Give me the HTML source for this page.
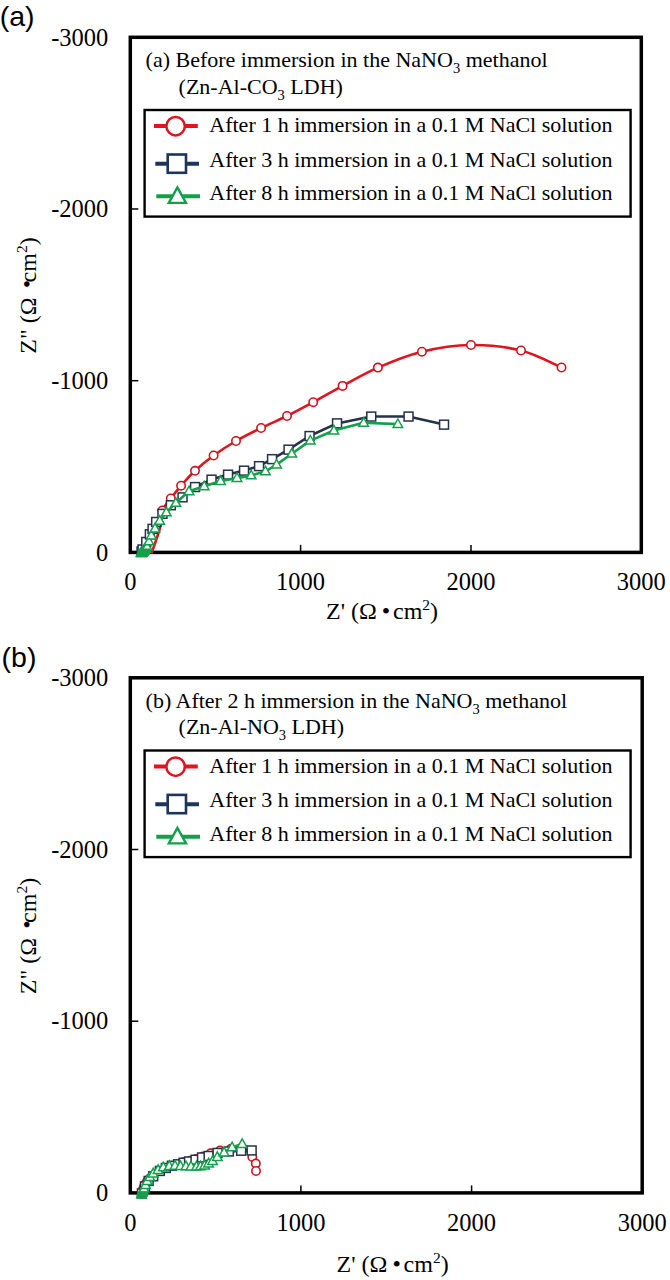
<!DOCTYPE html>
<html><head><meta charset="utf-8"><title>Nyquist plots</title>
<style>html,body{margin:0;padding:0;background:#fff;width:670px;height:1280px;overflow:hidden;}svg{display:block;font-family:"Liberation Serif",serif;}</style>
</head><body>
<svg width="670" height="1280" viewBox="0 0 670 1280">
<rect width="670" height="1280" fill="#fff"/>
<text x="-0.3" y="26.3" font-family="&quot;Liberation Sans&quot;, sans-serif" font-size="28.5">(a)</text>
<rect x="130.3" y="37.3" width="511.0" height="515.1" fill="none" stroke="#000" stroke-width="3.5"/>
<line x1="130.3" y1="380.7" x2="138.3" y2="380.7" stroke="#000" stroke-width="1.5"/>
<line x1="300.6" y1="552.4" x2="300.6" y2="544.9" stroke="#000" stroke-width="1.5"/>
<line x1="130.3" y1="209.0" x2="138.3" y2="209.0" stroke="#000" stroke-width="1.5"/>
<line x1="471.0" y1="552.4" x2="471.0" y2="544.9" stroke="#000" stroke-width="1.5"/>
<text x="108.3" y="560.6" font-family="&quot;Liberation Serif&quot;, serif" font-size="24.5" text-anchor="end">0</text>
<text x="108.3" y="388.9" font-family="&quot;Liberation Serif&quot;, serif" font-size="24.5" text-anchor="end">-1000</text>
<text x="108.3" y="217.2" font-family="&quot;Liberation Serif&quot;, serif" font-size="24.5" text-anchor="end">-2000</text>
<text x="108.3" y="45.5" font-family="&quot;Liberation Serif&quot;, serif" font-size="24.5" text-anchor="end">-3000</text>
<text x="130.3" y="590.3" font-family="&quot;Liberation Serif&quot;, serif" font-size="24.5" text-anchor="middle">0</text>
<text x="300.6" y="590.3" font-family="&quot;Liberation Serif&quot;, serif" font-size="24.5" text-anchor="middle">1000</text>
<text x="471.0" y="590.3" font-family="&quot;Liberation Serif&quot;, serif" font-size="24.5" text-anchor="middle">2000</text>
<text x="641.3" y="590.3" font-family="&quot;Liberation Serif&quot;, serif" font-size="24.5" text-anchor="middle">3000</text>
<text x="326.0" y="619.0" font-family="&quot;Liberation Serif&quot;, serif" font-size="24">Z' (&#937;<tspan dx="5">&#8226;</tspan><tspan dx="2.8">cm</tspan><tspan font-size="15.5" dy="-9">2</tspan><tspan dy="9">)</tspan></text>
<text transform="translate(36.3,295.5) rotate(-90)" font-family="&quot;Liberation Serif&quot;, serif" font-size="24" text-anchor="middle">Z&quot; (&#937; <tspan dx="3" dy="-1.8">&#8226;</tspan><tspan dx="-2.5" dy="1.8">cm</tspan><tspan font-size="15.5" dy="-9">2</tspan><tspan dy="9">)</tspan></text>
<text x="145.6" y="67.4" font-family="&quot;Liberation Serif&quot;, serif" font-size="22">(a) Before immersion in the NaNO<tspan font-size="14.5" dy="5.8">3</tspan><tspan dy="-5.8"> methanol</tspan></text>
<text x="178.6" y="93.8" font-family="&quot;Liberation Serif&quot;, serif" font-size="22">(Zn-Al-CO<tspan font-size="14.5" dy="5.8">3</tspan><tspan dy="-5.8"> LDH)</tspan></text>
<rect x="144.6" y="110.0" width="486" height="106.6" fill="#fff" stroke="#000" stroke-width="2.4"/>
<line x1="154.0" y1="126.0" x2="197.8" y2="126.0" stroke="#de141e" stroke-width="4.1"/>
<circle cx="175.6" cy="126.2" r="9.2" fill="#fff" stroke="#de141e" stroke-width="2.5"/>
<text x="209.3" y="132.4" font-family="&quot;Liberation Serif&quot;, serif" font-size="22">After 1 h immersion in a 0.1 M NaCl solution</text>
<line x1="155.3" y1="163.8" x2="199.0" y2="163.8" stroke="#1b355c" stroke-width="4.1"/>
<rect x="167.7" y="154.5" width="18.3" height="18.3" fill="#fff" stroke="#1b355c" stroke-width="2.6"/>
<text x="209.3" y="166.8" font-family="&quot;Liberation Serif&quot;, serif" font-size="22">After 3 h immersion in a 0.1 M NaCl solution</text>
<line x1="156.3" y1="196.3" x2="200.0" y2="196.3" stroke="#12a04a" stroke-width="4.1"/>
<path d="M177.4,187.4 L186.0,202.9 L168.8,202.9 Z" fill="#fff" stroke="#12a04a" stroke-width="2.4"/>
<text x="209.3" y="200.4" font-family="&quot;Liberation Serif&quot;, serif" font-size="22">After 8 h immersion in a 0.1 M NaCl solution</text>
<path d="M151.5,553.5 C152.3,551.1 154.9,543.9 156.5,539.0 C158.1,534.1 160.0,528.8 161.0,524.0 C162.0,519.2 160.8,514.8 162.4,510.5 C164.0,506.2 167.7,502.6 170.8,498.5 C173.9,494.4 177.1,490.3 181.1,485.7 C185.1,481.1 189.6,475.8 195.0,470.8 C200.4,465.8 206.8,460.5 213.6,455.5 C220.4,450.5 228.1,445.6 236.0,441.0 C243.9,436.4 252.6,432.2 261.1,428.0 C269.6,423.8 278.3,420.3 287.0,416.0 C295.7,411.7 303.9,407.2 313.2,402.2 C322.5,397.2 331.8,391.7 342.6,385.9 C353.4,380.1 364.7,373.3 377.9,367.6 C391.1,361.9 406.4,355.5 421.9,351.7 C437.4,347.9 454.5,345.2 471.0,345.0 C487.5,344.8 505.9,346.8 521.0,350.5 C536.1,354.2 554.8,364.7 561.5,367.5" fill="none" stroke="#de141e" stroke-width="2.6" stroke-linejoin="round"/>
<circle cx="162.4" cy="510.5" r="4.2" fill="#fff" stroke="#cc1420" stroke-width="1.6"/>
<circle cx="170.8" cy="498.5" r="4.2" fill="#fff" stroke="#cc1420" stroke-width="1.6"/>
<circle cx="181.1" cy="485.7" r="4.2" fill="#fff" stroke="#cc1420" stroke-width="1.6"/>
<circle cx="195.0" cy="470.8" r="4.2" fill="#fff" stroke="#cc1420" stroke-width="1.6"/>
<circle cx="213.6" cy="455.5" r="4.2" fill="#fff" stroke="#cc1420" stroke-width="1.6"/>
<circle cx="236.0" cy="441.0" r="4.2" fill="#fff" stroke="#cc1420" stroke-width="1.6"/>
<circle cx="261.1" cy="428.0" r="4.2" fill="#fff" stroke="#cc1420" stroke-width="1.6"/>
<circle cx="287.0" cy="416.0" r="4.2" fill="#fff" stroke="#cc1420" stroke-width="1.6"/>
<circle cx="313.2" cy="402.2" r="4.2" fill="#fff" stroke="#cc1420" stroke-width="1.6"/>
<circle cx="342.6" cy="385.9" r="4.2" fill="#fff" stroke="#cc1420" stroke-width="1.6"/>
<circle cx="377.9" cy="367.6" r="4.2" fill="#fff" stroke="#cc1420" stroke-width="1.6"/>
<circle cx="421.9" cy="351.7" r="4.2" fill="#fff" stroke="#cc1420" stroke-width="1.6"/>
<circle cx="471.0" cy="345.0" r="4.2" fill="#fff" stroke="#cc1420" stroke-width="1.6"/>
<circle cx="521.0" cy="350.5" r="4.2" fill="#fff" stroke="#cc1420" stroke-width="1.6"/>
<circle cx="561.5" cy="367.5" r="4.2" fill="#fff" stroke="#cc1420" stroke-width="1.6"/>
<path d="M141.5,551.5 L142.5,549.5 L146.2,542.0 L149.8,534.3 L152.5,528.9 L156.1,522.0 L162.4,513.9 L170.8,505.2 L182.5,497.3 L195.0,487.0 L211.5,479.6 L228.0,474.6 L244.0,470.6 L259.0,466.1 L272.0,459.1 L288.5,449.7 L309.5,436.0 L337.0,423.4 L371.2,416.5 L408.5,416.5 L444.0,424.6" fill="none" stroke="#26324a" stroke-width="2.6" stroke-linejoin="round"/>
<rect x="137.1" y="547.0" width="8.9" height="8.9" fill="#fff" stroke="#26324a" stroke-width="1.5"/>
<rect x="138.1" y="545.0" width="8.9" height="8.9" fill="#fff" stroke="#26324a" stroke-width="1.5"/>
<rect x="141.8" y="537.5" width="8.9" height="8.9" fill="#fff" stroke="#26324a" stroke-width="1.5"/>
<rect x="145.4" y="529.8" width="8.9" height="8.9" fill="#fff" stroke="#26324a" stroke-width="1.5"/>
<rect x="148.1" y="524.4" width="8.9" height="8.9" fill="#fff" stroke="#26324a" stroke-width="1.5"/>
<rect x="151.7" y="517.5" width="8.9" height="8.9" fill="#fff" stroke="#26324a" stroke-width="1.5"/>
<rect x="158.0" y="509.4" width="8.9" height="8.9" fill="#fff" stroke="#26324a" stroke-width="1.5"/>
<rect x="166.4" y="500.8" width="8.9" height="8.9" fill="#fff" stroke="#26324a" stroke-width="1.5"/>
<rect x="178.1" y="492.9" width="8.9" height="8.9" fill="#fff" stroke="#26324a" stroke-width="1.5"/>
<rect x="190.6" y="482.6" width="8.9" height="8.9" fill="#fff" stroke="#26324a" stroke-width="1.5"/>
<rect x="207.1" y="475.2" width="8.9" height="8.9" fill="#fff" stroke="#26324a" stroke-width="1.5"/>
<rect x="223.6" y="470.2" width="8.9" height="8.9" fill="#fff" stroke="#26324a" stroke-width="1.5"/>
<rect x="239.6" y="466.2" width="8.9" height="8.9" fill="#fff" stroke="#26324a" stroke-width="1.5"/>
<rect x="254.6" y="461.7" width="8.9" height="8.9" fill="#fff" stroke="#26324a" stroke-width="1.5"/>
<rect x="267.6" y="454.7" width="8.9" height="8.9" fill="#fff" stroke="#26324a" stroke-width="1.5"/>
<rect x="284.1" y="445.2" width="8.9" height="8.9" fill="#fff" stroke="#26324a" stroke-width="1.5"/>
<rect x="305.1" y="431.6" width="8.9" height="8.9" fill="#fff" stroke="#26324a" stroke-width="1.5"/>
<rect x="332.6" y="418.9" width="8.9" height="8.9" fill="#fff" stroke="#26324a" stroke-width="1.5"/>
<rect x="366.8" y="412.1" width="8.9" height="8.9" fill="#fff" stroke="#26324a" stroke-width="1.5"/>
<rect x="404.1" y="412.1" width="8.9" height="8.9" fill="#fff" stroke="#26324a" stroke-width="1.5"/>
<rect x="439.6" y="420.2" width="8.9" height="8.9" fill="#fff" stroke="#26324a" stroke-width="1.5"/>
<path d="M141.0,553.0 L142.5,551.5 L144.0,550.0 L145.5,548.5 L147.1,546.8 L148.9,541.4 L151.3,535.5 L155.0,528.5 L159.7,520.8 L166.3,512.4 L175.8,502.9 L189.0,491.3 L204.2,486.3 L220.6,481.0 L237.0,478.1 L251.2,475.4 L265.4,471.3 L276.6,464.6 L291.8,453.7 L310.3,440.6 L333.9,430.5 L363.6,422.8 L397.9,424.1" fill="none" stroke="#12a04a" stroke-width="2.6" stroke-linejoin="round"/>
<path d="M141.0,547.9 L145.8,556.4 L136.2,556.4 Z" fill="#fff" stroke="#12a04a" stroke-width="1.5" stroke-linejoin="miter"/>
<path d="M142.5,546.4 L147.2,554.9 L137.8,554.9 Z" fill="#fff" stroke="#12a04a" stroke-width="1.5" stroke-linejoin="miter"/>
<path d="M144.0,544.9 L148.8,553.4 L139.2,553.4 Z" fill="#fff" stroke="#12a04a" stroke-width="1.5" stroke-linejoin="miter"/>
<path d="M145.5,543.4 L150.2,551.9 L140.8,551.9 Z" fill="#fff" stroke="#12a04a" stroke-width="1.5" stroke-linejoin="miter"/>
<path d="M147.1,541.7 L151.8,550.2 L142.3,550.2 Z" fill="#fff" stroke="#12a04a" stroke-width="1.5" stroke-linejoin="miter"/>
<path d="M148.9,536.3 L153.7,544.8 L144.2,544.8 Z" fill="#fff" stroke="#12a04a" stroke-width="1.5" stroke-linejoin="miter"/>
<path d="M151.3,530.4 L156.1,538.9 L146.6,538.9 Z" fill="#fff" stroke="#12a04a" stroke-width="1.5" stroke-linejoin="miter"/>
<path d="M155.0,523.4 L159.8,531.9 L150.2,531.9 Z" fill="#fff" stroke="#12a04a" stroke-width="1.5" stroke-linejoin="miter"/>
<path d="M159.7,515.7 L164.4,524.2 L154.9,524.2 Z" fill="#fff" stroke="#12a04a" stroke-width="1.5" stroke-linejoin="miter"/>
<path d="M166.3,507.3 L171.1,515.8 L161.6,515.8 Z" fill="#fff" stroke="#12a04a" stroke-width="1.5" stroke-linejoin="miter"/>
<path d="M175.8,497.8 L180.6,506.3 L171.1,506.3 Z" fill="#fff" stroke="#12a04a" stroke-width="1.5" stroke-linejoin="miter"/>
<path d="M189.0,486.2 L193.8,494.7 L184.2,494.7 Z" fill="#fff" stroke="#12a04a" stroke-width="1.5" stroke-linejoin="miter"/>
<path d="M204.2,481.2 L208.9,489.7 L199.4,489.7 Z" fill="#fff" stroke="#12a04a" stroke-width="1.5" stroke-linejoin="miter"/>
<path d="M220.6,475.9 L225.3,484.4 L215.8,484.4 Z" fill="#fff" stroke="#12a04a" stroke-width="1.5" stroke-linejoin="miter"/>
<path d="M237.0,473.0 L241.8,481.5 L232.2,481.5 Z" fill="#fff" stroke="#12a04a" stroke-width="1.5" stroke-linejoin="miter"/>
<path d="M251.2,470.3 L255.9,478.8 L246.4,478.8 Z" fill="#fff" stroke="#12a04a" stroke-width="1.5" stroke-linejoin="miter"/>
<path d="M265.4,466.2 L270.1,474.7 L260.6,474.7 Z" fill="#fff" stroke="#12a04a" stroke-width="1.5" stroke-linejoin="miter"/>
<path d="M276.6,459.5 L281.4,468.0 L271.9,468.0 Z" fill="#fff" stroke="#12a04a" stroke-width="1.5" stroke-linejoin="miter"/>
<path d="M291.8,448.6 L296.6,457.1 L287.1,457.1 Z" fill="#fff" stroke="#12a04a" stroke-width="1.5" stroke-linejoin="miter"/>
<path d="M310.3,435.5 L315.1,444.0 L305.6,444.0 Z" fill="#fff" stroke="#12a04a" stroke-width="1.5" stroke-linejoin="miter"/>
<path d="M333.9,425.4 L338.6,433.9 L329.1,433.9 Z" fill="#fff" stroke="#12a04a" stroke-width="1.5" stroke-linejoin="miter"/>
<path d="M363.6,417.7 L368.4,426.2 L358.9,426.2 Z" fill="#fff" stroke="#12a04a" stroke-width="1.5" stroke-linejoin="miter"/>
<path d="M397.9,419.0 L402.6,427.5 L393.1,427.5 Z" fill="#fff" stroke="#12a04a" stroke-width="1.5" stroke-linejoin="miter"/>
<path d="M136.4,557.2 L147.7,557.2 L151.2,552.0 L150.0,548.5 L138.2,548.5 Z" fill="#12a04a"/>
<text x="1.6" y="666.8" font-family="&quot;Liberation Sans&quot;, sans-serif" font-size="28.5">(b)</text>
<rect x="130.3" y="677.8" width="511.9" height="515.1" fill="none" stroke="#000" stroke-width="3.5"/>
<line x1="130.3" y1="1021.2" x2="138.3" y2="1021.2" stroke="#000" stroke-width="1.5"/>
<line x1="300.9" y1="1192.9" x2="300.9" y2="1185.4" stroke="#000" stroke-width="1.5"/>
<line x1="130.3" y1="849.5" x2="138.3" y2="849.5" stroke="#000" stroke-width="1.5"/>
<line x1="471.6" y1="1192.9" x2="471.6" y2="1185.4" stroke="#000" stroke-width="1.5"/>
<text x="108.3" y="1201.1" font-family="&quot;Liberation Serif&quot;, serif" font-size="24.5" text-anchor="end">0</text>
<text x="108.3" y="1029.4" font-family="&quot;Liberation Serif&quot;, serif" font-size="24.5" text-anchor="end">-1000</text>
<text x="108.3" y="857.7" font-family="&quot;Liberation Serif&quot;, serif" font-size="24.5" text-anchor="end">-2000</text>
<text x="108.3" y="686.0" font-family="&quot;Liberation Serif&quot;, serif" font-size="24.5" text-anchor="end">-3000</text>
<text x="130.3" y="1230.8" font-family="&quot;Liberation Serif&quot;, serif" font-size="24.5" text-anchor="middle">0</text>
<text x="300.9" y="1230.8" font-family="&quot;Liberation Serif&quot;, serif" font-size="24.5" text-anchor="middle">1000</text>
<text x="471.6" y="1230.8" font-family="&quot;Liberation Serif&quot;, serif" font-size="24.5" text-anchor="middle">2000</text>
<text x="642.2" y="1230.8" font-family="&quot;Liberation Serif&quot;, serif" font-size="24.5" text-anchor="middle">3000</text>
<text x="336.6" y="1272.0" font-family="&quot;Liberation Serif&quot;, serif" font-size="24">Z' (&#937;<tspan dx="5">&#8226;</tspan><tspan dx="2.8">cm</tspan><tspan font-size="15.5" dy="-9">2</tspan><tspan dy="9">)</tspan></text>
<text transform="translate(36.3,936.0) rotate(-90)" font-family="&quot;Liberation Serif&quot;, serif" font-size="24" text-anchor="middle">Z&quot; (&#937; <tspan dx="3" dy="-1.8">&#8226;</tspan><tspan dx="-2.5" dy="1.8">cm</tspan><tspan font-size="15.5" dy="-9">2</tspan><tspan dy="9">)</tspan></text>
<text x="145.6" y="707.9" font-family="&quot;Liberation Serif&quot;, serif" font-size="22">(b) After 2 h immersion in the NaNO<tspan font-size="14.5" dy="5.8">3</tspan><tspan dy="-5.8"> methanol</tspan></text>
<text x="178.6" y="734.3" font-family="&quot;Liberation Serif&quot;, serif" font-size="22">(Zn-Al-NO<tspan font-size="14.5" dy="5.8">3</tspan><tspan dy="-5.8"> LDH)</tspan></text>
<rect x="144.6" y="750.5" width="486" height="106.6" fill="#fff" stroke="#000" stroke-width="2.4"/>
<line x1="154.0" y1="766.5" x2="197.8" y2="766.5" stroke="#de141e" stroke-width="4.1"/>
<circle cx="175.6" cy="766.7" r="9.2" fill="#fff" stroke="#de141e" stroke-width="2.5"/>
<text x="209.3" y="772.9" font-family="&quot;Liberation Serif&quot;, serif" font-size="22">After 1 h immersion in a 0.1 M NaCl solution</text>
<line x1="155.3" y1="804.3" x2="199.0" y2="804.3" stroke="#1b355c" stroke-width="4.1"/>
<rect x="167.7" y="794.9" width="18.3" height="18.3" fill="#fff" stroke="#1b355c" stroke-width="2.6"/>
<text x="209.3" y="807.3" font-family="&quot;Liberation Serif&quot;, serif" font-size="22">After 3 h immersion in a 0.1 M NaCl solution</text>
<line x1="156.3" y1="836.8" x2="200.0" y2="836.8" stroke="#12a04a" stroke-width="4.1"/>
<path d="M177.4,827.9 L186.0,843.4 L168.8,843.4 Z" fill="#fff" stroke="#12a04a" stroke-width="2.4"/>
<text x="209.3" y="840.9" font-family="&quot;Liberation Serif&quot;, serif" font-size="22">After 8 h immersion in a 0.1 M NaCl solution</text>
<path d="M138.0,1194.0 C138.2,1193.0 138.8,1189.9 139.5,1188.0 C140.2,1186.1 141.0,1184.2 142.0,1182.5 C143.0,1180.8 144.2,1179.0 145.5,1177.5 C146.8,1176.0 148.4,1174.7 150.0,1173.5 C151.6,1172.3 153.2,1171.4 155.0,1170.5 C156.8,1169.6 158.7,1168.7 160.5,1168.0 C162.3,1167.3 164.1,1166.9 166.0,1166.3 C167.9,1165.7 170.0,1165.1 172.0,1164.6 C174.0,1164.1 176.0,1163.7 178.0,1163.3 C180.0,1162.9 182.0,1162.4 184.0,1162.0 C186.0,1161.6 188.0,1161.3 190.0,1160.8 C192.0,1160.3 193.8,1159.7 196.0,1159.0 C198.2,1158.3 200.6,1157.5 203.0,1156.5 C205.4,1155.5 207.8,1154.3 210.6,1153.3 C213.4,1152.3 216.6,1151.3 220.0,1150.6 C223.4,1149.8 227.2,1149.1 231.0,1148.8 C234.8,1148.5 239.4,1147.2 243.0,1148.5 C246.6,1149.8 250.2,1154.4 252.3,1156.9 C254.4,1159.4 255.2,1161.2 255.8,1163.6 C256.4,1165.9 256.0,1169.8 256.0,1171.0" fill="none" stroke="#de141e" stroke-width="2.6" stroke-linejoin="round"/>
<circle cx="184.0" cy="1162.0" r="4.2" fill="#fff" stroke="#cc1420" stroke-width="1.6"/>
<circle cx="190.0" cy="1160.8" r="4.2" fill="#fff" stroke="#cc1420" stroke-width="1.6"/>
<circle cx="196.0" cy="1159.0" r="4.2" fill="#fff" stroke="#cc1420" stroke-width="1.6"/>
<circle cx="203.0" cy="1156.5" r="4.2" fill="#fff" stroke="#cc1420" stroke-width="1.6"/>
<circle cx="210.6" cy="1153.3" r="4.2" fill="#fff" stroke="#cc1420" stroke-width="1.6"/>
<circle cx="220.0" cy="1150.6" r="4.2" fill="#fff" stroke="#cc1420" stroke-width="1.6"/>
<circle cx="231.0" cy="1148.8" r="4.2" fill="#fff" stroke="#cc1420" stroke-width="1.6"/>
<circle cx="243.0" cy="1148.5" r="4.2" fill="#fff" stroke="#cc1420" stroke-width="1.6"/>
<circle cx="252.3" cy="1156.9" r="4.2" fill="#fff" stroke="#cc1420" stroke-width="1.6"/>
<circle cx="255.8" cy="1163.6" r="4.2" fill="#fff" stroke="#cc1420" stroke-width="1.6"/>
<circle cx="256.0" cy="1171.0" r="4.2" fill="#fff" stroke="#cc1420" stroke-width="1.6"/>
<path d="M141.9,1193.5 L144.9,1186.5 L148.6,1181.0 L153.1,1176.3 L159.8,1170.9 L165.8,1167.9 L171.8,1165.8 L178.0,1164.2 L183.5,1162.8 L189.0,1161.5 L195.5,1159.8 L202.0,1157.5 L208.6,1156.0 L217.5,1153.0 L228.8,1151.5 L241.1,1150.8 L251.6,1150.4" fill="none" stroke="#26324a" stroke-width="2.6" stroke-linejoin="round"/>
<rect x="137.5" y="1189.0" width="8.9" height="8.9" fill="#fff" stroke="#26324a" stroke-width="1.5"/>
<rect x="140.5" y="1182.0" width="8.9" height="8.9" fill="#fff" stroke="#26324a" stroke-width="1.5"/>
<rect x="144.2" y="1176.5" width="8.9" height="8.9" fill="#fff" stroke="#26324a" stroke-width="1.5"/>
<rect x="148.7" y="1171.8" width="8.9" height="8.9" fill="#fff" stroke="#26324a" stroke-width="1.5"/>
<rect x="155.4" y="1166.5" width="8.9" height="8.9" fill="#fff" stroke="#26324a" stroke-width="1.5"/>
<rect x="161.4" y="1163.5" width="8.9" height="8.9" fill="#fff" stroke="#26324a" stroke-width="1.5"/>
<rect x="167.4" y="1161.3" width="8.9" height="8.9" fill="#fff" stroke="#26324a" stroke-width="1.5"/>
<rect x="173.6" y="1159.8" width="8.9" height="8.9" fill="#fff" stroke="#26324a" stroke-width="1.5"/>
<rect x="179.1" y="1158.3" width="8.9" height="8.9" fill="#fff" stroke="#26324a" stroke-width="1.5"/>
<rect x="184.6" y="1157.0" width="8.9" height="8.9" fill="#fff" stroke="#26324a" stroke-width="1.5"/>
<rect x="191.1" y="1155.3" width="8.9" height="8.9" fill="#fff" stroke="#26324a" stroke-width="1.5"/>
<rect x="197.6" y="1153.0" width="8.9" height="8.9" fill="#fff" stroke="#26324a" stroke-width="1.5"/>
<rect x="204.2" y="1151.5" width="8.9" height="8.9" fill="#fff" stroke="#26324a" stroke-width="1.5"/>
<rect x="213.1" y="1148.5" width="8.9" height="8.9" fill="#fff" stroke="#26324a" stroke-width="1.5"/>
<rect x="224.4" y="1147.0" width="8.9" height="8.9" fill="#fff" stroke="#26324a" stroke-width="1.5"/>
<rect x="236.7" y="1146.3" width="8.9" height="8.9" fill="#fff" stroke="#26324a" stroke-width="1.5"/>
<rect x="247.2" y="1146.0" width="8.9" height="8.9" fill="#fff" stroke="#26324a" stroke-width="1.5"/>
<path d="M141.5,1194.3 L142.5,1192.0 L144.0,1188.5 L145.5,1185.0 L147.2,1181.0 L149.8,1177.0 L153.2,1173.5 L158.1,1170.0 L163.3,1167.3 L169.3,1166.0 L175.0,1165.8 L180.5,1166.0 L186.0,1166.3 L191.0,1166.5 L196.5,1166.5 L200.5,1166.3 L204.6,1165.5 L208.6,1163.5 L212.6,1161.0 L217.3,1157.0 L224.1,1152.5 L232.1,1147.3 L242.2,1144.0" fill="none" stroke="#12a04a" stroke-width="2.6" stroke-linejoin="round"/>
<path d="M141.5,1189.2 L146.2,1197.7 L136.8,1197.7 Z" fill="#fff" stroke="#12a04a" stroke-width="1.5" stroke-linejoin="miter"/>
<path d="M142.5,1186.9 L147.2,1195.4 L137.8,1195.4 Z" fill="#fff" stroke="#12a04a" stroke-width="1.5" stroke-linejoin="miter"/>
<path d="M144.0,1183.4 L148.8,1191.9 L139.2,1191.9 Z" fill="#fff" stroke="#12a04a" stroke-width="1.5" stroke-linejoin="miter"/>
<path d="M145.5,1179.9 L150.2,1188.4 L140.8,1188.4 Z" fill="#fff" stroke="#12a04a" stroke-width="1.5" stroke-linejoin="miter"/>
<path d="M147.2,1175.9 L151.9,1184.4 L142.4,1184.4 Z" fill="#fff" stroke="#12a04a" stroke-width="1.5" stroke-linejoin="miter"/>
<path d="M149.8,1171.9 L154.6,1180.4 L145.1,1180.4 Z" fill="#fff" stroke="#12a04a" stroke-width="1.5" stroke-linejoin="miter"/>
<path d="M153.2,1168.4 L157.9,1176.9 L148.4,1176.9 Z" fill="#fff" stroke="#12a04a" stroke-width="1.5" stroke-linejoin="miter"/>
<path d="M158.1,1164.9 L162.8,1173.4 L153.3,1173.4 Z" fill="#fff" stroke="#12a04a" stroke-width="1.5" stroke-linejoin="miter"/>
<path d="M163.3,1162.2 L168.1,1170.7 L158.6,1170.7 Z" fill="#fff" stroke="#12a04a" stroke-width="1.5" stroke-linejoin="miter"/>
<path d="M169.3,1160.9 L174.1,1169.4 L164.6,1169.4 Z" fill="#fff" stroke="#12a04a" stroke-width="1.5" stroke-linejoin="miter"/>
<path d="M175.0,1160.7 L179.8,1169.2 L170.2,1169.2 Z" fill="#fff" stroke="#12a04a" stroke-width="1.5" stroke-linejoin="miter"/>
<path d="M180.5,1160.9 L185.2,1169.4 L175.8,1169.4 Z" fill="#fff" stroke="#12a04a" stroke-width="1.5" stroke-linejoin="miter"/>
<path d="M186.0,1161.2 L190.8,1169.7 L181.2,1169.7 Z" fill="#fff" stroke="#12a04a" stroke-width="1.5" stroke-linejoin="miter"/>
<path d="M191.0,1161.4 L195.8,1169.9 L186.2,1169.9 Z" fill="#fff" stroke="#12a04a" stroke-width="1.5" stroke-linejoin="miter"/>
<path d="M196.5,1161.4 L201.2,1169.9 L191.8,1169.9 Z" fill="#fff" stroke="#12a04a" stroke-width="1.5" stroke-linejoin="miter"/>
<path d="M200.5,1161.2 L205.2,1169.7 L195.8,1169.7 Z" fill="#fff" stroke="#12a04a" stroke-width="1.5" stroke-linejoin="miter"/>
<path d="M204.6,1160.4 L209.3,1168.9 L199.8,1168.9 Z" fill="#fff" stroke="#12a04a" stroke-width="1.5" stroke-linejoin="miter"/>
<path d="M208.6,1158.4 L213.3,1166.9 L203.8,1166.9 Z" fill="#fff" stroke="#12a04a" stroke-width="1.5" stroke-linejoin="miter"/>
<path d="M212.6,1155.9 L217.3,1164.4 L207.8,1164.4 Z" fill="#fff" stroke="#12a04a" stroke-width="1.5" stroke-linejoin="miter"/>
<path d="M217.3,1151.9 L222.1,1160.4 L212.6,1160.4 Z" fill="#fff" stroke="#12a04a" stroke-width="1.5" stroke-linejoin="miter"/>
<path d="M224.1,1147.4 L228.8,1155.9 L219.3,1155.9 Z" fill="#fff" stroke="#12a04a" stroke-width="1.5" stroke-linejoin="miter"/>
<path d="M232.1,1142.2 L236.8,1150.7 L227.3,1150.7 Z" fill="#fff" stroke="#12a04a" stroke-width="1.5" stroke-linejoin="miter"/>
<path d="M242.2,1138.9 L246.9,1147.4 L237.4,1147.4 Z" fill="#fff" stroke="#12a04a" stroke-width="1.5" stroke-linejoin="miter"/>
<path d="M136.3,1198.2 L146.5,1198.2 L148.6,1193.5 L147.5,1191.5 L137.5,1191.5 Z" fill="#12a04a"/>
</svg>
</body></html>
